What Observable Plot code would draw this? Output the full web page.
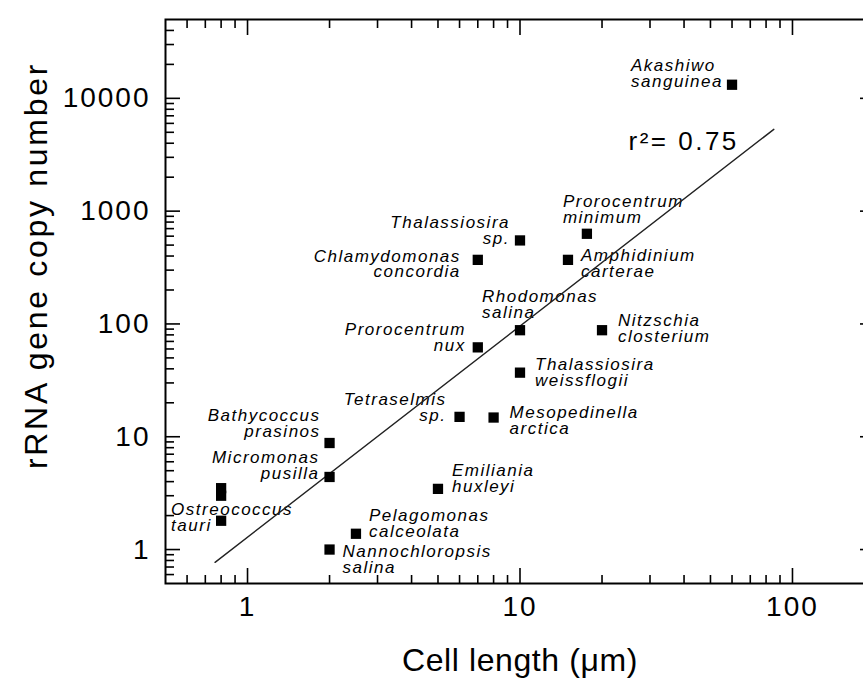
<!DOCTYPE html>
<html><head><meta charset="utf-8">
<script src="https://cdn.jsdelivr.net/npm/d3@7"></script>
<script src="https://cdn.jsdelivr.net/npm/@observablehq/plot@0.6"></script>
<style>
html,body{margin:0;padding:0;background:#fff;overflow:hidden;}
#chart svg{display:block;max-width:none !important;}
.species-label, .species-label text{letter-spacing:1.5px;}
g[aria-label="x-axis tick label"] text, g[aria-label="y-axis tick label"] text{letter-spacing:2px;}
.x-title, .x-title text{letter-spacing:0.6px;}
.y-title, .y-title text{letter-spacing:2.7px;}
.r2-note, .r2-note text{letter-spacing:2.5px;}
</style></head><body><div id="chart"></div>
<script>
// ---- data ----
const species = ["Akashiwo sanguinea","Prorocentrum minimum","Thalassiosira sp.","Chlamydomonas concordia","Amphidinium carterae","Rhodomonas salina","Nitzschia closterium","Prorocentrum nux","Thalassiosira weissflogii","Tetraselmis sp.","Mesopedinella arctica","Bathycoccus prasinos","Micromonas pusilla","Ostreococcus tauri","Ostreococcus tauri","Ostreococcus tauri","Emiliania huxleyi","Pelagomonas calceolata","Nannochloropsis salina"];
const cellLength = [60, 17.6, 10, 7, 15, 10, 20, 7, 10, 6, 8, 2, 2, 0.8, 0.8, 0.8, 5, 2.5, 2];
const copyNumber = [13200, 630, 550, 370, 370, 88, 88, 62, 37, 15, 14.8, 8.8, 4.4, 1.8, 3.0, 3.5, 3.45, 1.38, 1.0];

// regression line end points
const fitX = [0.76, 85.4];
const fitY = [0.77, 5310];
const rSquared = "0.75";

// ticks
const majorX = [1, 10, 100];
const minorX = [0.6,0.7,0.8,0.9, 2,3,4,5,6,7,8,9, 20,30,40,50,60,70,80,90];
const majorY = [1, 10, 100, 1000, 10000];
const minorY = [0.6,0.7,0.8,0.9, 2,3,4,5,6,7,8,9, 20,30,40,50,60,70,80,90, 200,300,400,500,600,700,800,900, 2000,3000,4000,5000,6000,7000,8000,9000, 20000,30000,40000];

const xTitle = "Cell length (\u03bcm)";
const yTitle = "rRNA gene copy number";

// ---- label placement (layout, separate from data) ----
const labelLayout = [
  {species:"Akashiwo sanguinea", anchor:"start", dx:-101, dy:2},
  {species:"Prorocentrum minimum", anchor:"start", dx:-24, dy:-11},
  {species:"Thalassiosira sp.", anchor:"end", dx:-10, dy:3.5},
  {species:"Chlamydomonas concordia", anchor:"end", dx:-17, dy:17.5},
  {species:"Amphidinium carterae", anchor:"start", dx:13, dy:17},
  {species:"Rhodomonas salina", anchor:"start", dx:-38, dy:-12},
  {species:"Nitzschia closterium", anchor:"start", dx:16, dy:12},
  {species:"Prorocentrum nux", anchor:"end", dx:-12, dy:3.5},
  {species:"Thalassiosira weissflogii", anchor:"start", dx:15, dy:13},
  {species:"Tetraselmis sp.", anchor:"end", dx:-13, dy:4},
  {species:"Mesopedinella arctica", anchor:"start", dx:16, dy:16},
  {species:"Bathycoccus prasinos", anchor:"end", dx:-9, dy:-6},
  {species:"Micromonas pusilla", anchor:"end", dx:-10, dy:2},
  {species:"Ostreococcus tauri", anchor:"start", dx:-50, dy:10},
  {species:"Emiliania huxleyi", anchor:"start", dx:14, dy:3},
  {species:"Pelagomonas calceolata", anchor:"start", dx:13, dy:3.5},
  {species:"Nannochloropsis salina", anchor:"start", dx:13, dy:23}
];

const idx = species.map((_, i) => i);
const fitIdx = fitX.map((_, i) => i);

const labelMarks = labelLayout.map(l => {
  const i = species.indexOf(l.species);
  return Plot.text([i], {
    x: j => cellLength[j], y: j => copyNumber[j],
    text: j => species[j].replace(" ", "\n"),
    textAnchor: l.anchor, dx: l.dx, dy: l.dy,
    lineAnchor: "bottom", lineHeight: 0.93,
    fontSize: 17, fontStyle: "italic", fill: "#000",
    className: "species-label"
  });
});

const chart = Plot.plot({
  width: 880, height: 681,
  marginLeft: 165, marginRight: 6, marginTop: 19, marginBottom: 98,
  style: {fontFamily: "'Liberation Sans', Arial, Helvetica, sans-serif", maxWidth: "none", background: "#fff", color: "#000"},
  x: {type: "log", domain: [0.5, 200]},
  y: {type: "log", domain: [0.5, 50000]},
  marks: [
    ...labelMarks,
    Plot.line(fitIdx, {x: i => fitX[i], y: i => fitY[i], stroke: "#222", strokeWidth: 1.4}),
    Plot.dot(idx, {x: i => cellLength[i], y: i => copyNumber[i], symbol: "square", r: 5.8, fill: "#000", stroke: "none"}),
    // inward ticks on all four sides
    Plot.axisX(majorX, {anchor: "bottom", tickSize: 15, dy: -15, fill: "none", label: null, strokeWidth: 1.6}),
    Plot.axisX(minorX, {anchor: "bottom", tickSize: 8, dy: -8, fill: "none", label: null, strokeWidth: 1.6}),
    Plot.axisX(majorX, {anchor: "top", tickSize: 15, dy: 15, fill: "none", label: null, strokeWidth: 1.6}),
    Plot.axisX(minorX, {anchor: "top", tickSize: 8, dy: 8, fill: "none", label: null, strokeWidth: 1.6}),
    Plot.axisY(majorY, {anchor: "left", tickSize: 15, dx: 15, fill: "none", label: null, strokeWidth: 1.6}),
    Plot.axisY(minorY, {anchor: "left", tickSize: 9, dx: 9, fill: "none", label: null, strokeWidth: 1.6}),
    Plot.axisY(majorY, {anchor: "right", tickSize: 15, dx: -15, fill: "none", label: null, strokeWidth: 1.6}),
    Plot.axisY(minorY, {anchor: "right", tickSize: 9, dx: -9, fill: "none", label: null, strokeWidth: 1.6}),
    // tick labels
    Plot.axisX(majorX, {anchor: "bottom", tickSize: 0, tickPadding: 13, fontSize: 28, tickFormat: d => String(d), label: null}),
    Plot.axisY(majorY, {anchor: "left", tickSize: 0, tickPadding: 15, fontSize: 28, tickFormat: d => String(d), label: null}),
    Plot.frame({stroke: "#000", strokeWidth: 2}),
    // titles
    Plot.text([xTitle], {frameAnchor: "bottom", dy: 77, textAnchor: "middle", lineAnchor: "middle", fontSize: 32, className: "x-title"}),
    Plot.text([yTitle], {frameAnchor: "left", dx: -129, dy: -36, rotate: -90, textAnchor: "middle", lineAnchor: "middle", fontSize: 32, className: "y-title"}),
    Plot.text([`r\u00b2= ${rSquared}`], {frameAnchor: "top-left", dx: 463, dy: 130, textAnchor: "start", lineAnchor: "bottom", fontSize: 26, className: "r2-note"})
  ]
});
document.getElementById("chart").appendChild(chart);
</script>
</body></html>
